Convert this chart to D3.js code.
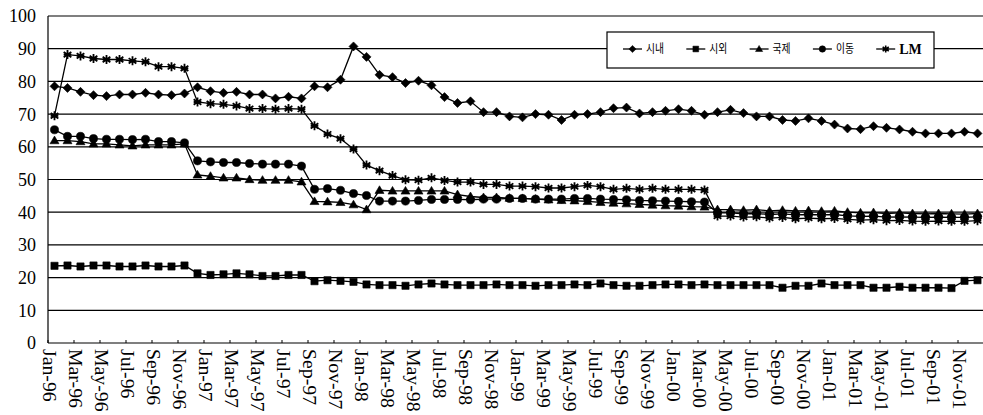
<!DOCTYPE html>
<html><head><meta charset="utf-8">
<script src="https://cdn.jsdelivr.net/npm/d3@7"></script>
<style>html,body{margin:0;padding:0;background:#fff;overflow:hidden}svg{display:block}</style>
</head><body><svg id="c" width="983" height="415"></svg>
<script>
const categories = [
"Jan-96","Feb-96","Mar-96","Apr-96","May-96","Jun-96","Jul-96","Aug-96","Sep-96","Oct-96","Nov-96","Dec-96",
"Jan-97","Feb-97","Mar-97","Apr-97","May-97","Jun-97","Jul-97","Aug-97","Sep-97","Oct-97","Nov-97","Dec-97",
"Jan-98","Feb-98","Mar-98","Apr-98","May-98","Jun-98","Jul-98","Aug-98","Sep-98","Oct-98","Nov-98","Dec-98",
"Jan-99","Feb-99","Mar-99","Apr-99","May-99","Jun-99","Jul-99","Aug-99","Sep-99","Oct-99","Nov-99","Dec-99",
"Jan-00","Feb-00","Mar-00","Apr-00","May-00","Jun-00","Jul-00","Aug-00","Sep-00","Oct-00","Nov-00","Dec-00",
"Jan-01","Feb-01","Mar-01","Apr-01","May-01","Jun-01","Jul-01","Aug-01","Sep-01","Oct-01","Nov-01","Dec-01"];
const seriesNames = ["시내","시외","국제","이동","LM"];
const local = [78.5,78.0,76.8,75.8,75.5,76.0,76.0,76.5,76.0,75.8,76.3,78.2,
77.0,76.5,76.8,76.0,76.0,74.8,75.3,74.8,78.5,78.2,80.5,90.7,
87.5,82.0,81.3,79.5,80.2,78.8,75.2,73.4,73.9,70.6,70.6,69.3,
69.0,70.0,69.8,68.2,69.8,70.0,70.6,71.8,72.0,70.2,70.6,71.0,
71.5,71.0,69.8,70.6,71.3,70.3,69.3,69.3,68.2,67.9,68.7,67.9,
66.8,65.6,65.4,66.3,65.8,65.3,64.6,64.1,64.1,64.1,64.6,64.1];
const longDist = [23.6,23.7,23.4,23.7,23.7,23.4,23.4,23.7,23.4,23.4,23.7,21.3,
20.8,21.0,21.3,21.0,20.5,20.5,20.8,20.8,18.9,19.2,19.0,18.7,
17.9,17.7,17.7,17.5,17.9,18.2,17.9,17.7,17.7,17.7,17.9,17.7,
17.7,17.5,17.7,17.7,17.9,17.7,18.2,17.7,17.5,17.5,17.7,17.9,
17.9,17.7,17.9,17.7,17.7,17.7,17.7,17.7,16.9,17.5,17.5,18.2,
17.7,17.7,17.7,16.9,16.9,17.2,16.9,16.9,16.9,16.8,19.0,19.2];
const intl = [61.9,61.9,61.6,60.9,60.9,60.6,60.3,60.6,60.6,60.6,60.9,51.4,
51.0,50.5,50.5,50.0,49.8,49.8,49.8,49.3,43.3,43.2,43.0,42.3,
40.8,46.7,46.5,46.5,46.5,46.5,46.5,45.4,44.8,44.5,44.5,44.3,
44.2,44.0,43.8,43.6,43.5,43.3,43.0,42.8,42.6,42.4,42.2,42.0,
41.9,41.7,41.6,40.8,40.8,40.6,40.8,40.4,40.6,40.4,40.5,40.3,
40.4,40.0,39.8,39.9,39.6,39.8,39.6,39.5,39.6,39.5,39.4,39.6];
const mobile = [65.2,63.2,63.2,62.5,62.3,62.3,62.2,62.3,61.6,61.6,61.2,55.7,
55.4,55.2,55.2,54.9,54.7,54.7,54.7,54.1,47.0,47.2,46.7,45.7,
45.1,43.4,43.4,43.4,43.6,43.9,43.9,43.9,43.8,44.0,44.0,44.2,
44.2,44.0,44.0,44.0,44.2,44.2,44.0,43.9,43.8,43.6,43.5,43.4,
43.3,43.2,43.1,39.8,39.8,39.5,39.6,39.3,39.5,39.2,39.3,39.2,
39.3,38.9,38.7,38.8,38.5,38.6,38.5,38.4,38.5,38.4,38.4,38.6];
const lm = [69.5,88.2,87.8,87.0,86.7,86.7,86.3,86.0,84.5,84.5,84.0,73.7,
73.2,73.0,72.5,71.7,71.7,71.5,71.7,71.5,66.4,63.9,62.5,59.3,
54.4,52.7,51.2,49.9,49.8,50.5,49.7,49.2,49.2,48.5,48.5,48.0,
48.0,47.8,47.4,47.4,47.8,48.2,47.8,47.0,47.3,47.0,47.3,47.0,
47.0,47.0,46.8,38.8,38.8,38.5,38.6,38.2,38.4,38.0,38.2,38.0,
38.1,37.8,37.6,37.7,37.4,37.5,37.3,37.2,37.3,37.2,37.2,37.4];
const yTicks = [0,10,20,30,40,50,60,70,80,90,100];
const tickLabels = categories.filter((d,i)=>i%2===0);

const seriesValues = [local,longDist,intl,mobile,lm];
const markerTypes = ["diamond","square","triangle","circle","star"];
const SERIF = "'Liberation Serif','Times New Roman','DejaVu Serif',serif";

const svg = d3.select("#c");
const L=48, R=984, T=16, B=343;
const x = d3.scaleBand().domain(categories).range([L,R]).padding(0);
const xc = c => x(c) + x.bandwidth()/2;
const y = d3.scaleLinear().domain([0,100]).range([B,T]);

// gridlines
svg.append("g").selectAll("line").data(yTicks).join("line")
  .attr("x1",L).attr("x2",R).attr("y1",d=>y(d)).attr("y2",d=>y(d))
  .attr("stroke","#000").attr("stroke-width",1.2);
// left axis line
svg.append("line").attr("x1",L).attr("x2",L).attr("y1",T).attr("y2",B)
  .attr("stroke","#000").attr("stroke-width",1.2);
// y labels
svg.append("g").selectAll("text").data(yTicks).join("text")
  .attr("x",36).attr("y",d=>y(d)).attr("dy","0.36em").attr("text-anchor","end")
  .style("font-family",SERIF).attr("font-size",18).attr("fill","#000")
  .text(d=>d);
// x ticks every 2 categories
svg.append("g").selectAll("line").data(tickLabels).join("line")
  .attr("x1",d=>x(d)).attr("x2",d=>x(d)).attr("y1",B).attr("y2",B-3)
  .attr("stroke","#000").attr("stroke-width",1);
// x labels
svg.append("g").selectAll("text").data(tickLabels).join("text")
  .attr("transform",d=>`translate(${xc(d)-12},349) rotate(90) scale(1.1,1)`)
  .attr("text-anchor","start")
  .style("font-family",SERIF).attr("font-size",18).attr("fill","#000")
  .text(d=>d);

function markerPath(type, s){
  switch(type){
    case "diamond": return `M0,${-s}L${s},0L0,${s}L${-s},0Z`;
    case "square": { const h=s*0.8; return `M${-h},${-h}H${h}V${h}H${-h}Z`; }
    case "triangle": return `M0,${-s}L${s},${s*0.7}L${-s},${s*0.7}Z`;
    case "circle": { const r=s*0.9; return `M${r},0A${r},${r} 0 1 1 ${-r},0A${r},${r} 0 1 1 ${r},0Z`; }
    case "star": { const a=s*0.85; return `M0,${-s}V${s}M${-a},${-a*0.7}L${a},${a*0.7}M${-a},${a*0.7}L${a},${-a*0.7}M${-a},0H${a}`; }
  }
}

const line = d3.line().x((d,i)=>xc(categories[i])).y(d=>y(d));
seriesValues.forEach((vals,si)=>{
  const g = svg.append("g");
  g.append("path").attr("d",line(vals)).attr("fill","none").attr("stroke","#000").attr("stroke-width",1.3);
  const t = markerTypes[si];
  g.selectAll("path.m").data(vals).join("path").attr("class","m")
    .attr("transform",(d,i)=>`translate(${xc(categories[i])},${y(d)})`)
    .attr("d",markerPath(t,4.5))
    .attr("fill",t==="star"?"none":"#000")
    .attr("stroke","#000").attr("stroke-width",t==="star"?1.8:0.6);
});

// legend
const lg = svg.append("g");
lg.append("rect").attr("x",607).attr("y",32).attr("width",327).attr("height",36)
  .attr("fill","#fff").attr("stroke","#000").attr("stroke-width",1.2);
seriesNames.forEach((nm,i)=>{
  const tx = 645 + i*63.3;
  const ly = 49;
  lg.append("line").attr("x1",tx-22).attr("x2",tx-3).attr("y1",ly).attr("y2",ly)
    .attr("stroke","#000").attr("stroke-width",1.3);
  const t = markerTypes[i];
  lg.append("path").attr("transform",`translate(${tx-12.5},${ly})`).attr("d",markerPath(t,3.6))
    .attr("fill",t==="star"?"none":"#000").attr("stroke","#000").attr("stroke-width",t==="star"?1.6:0.5);
  const isLM = nm==="LM";
  const txt = lg.append("text").attr("x",tx+1).attr("y",ly).attr("dy","0.36em")
    .style("font-family", isLM ? SERIF : "'Noto Sans CJK KR',sans-serif")
    .attr("font-size", isLM ? 14 : 12)
    .attr("font-weight", isLM ? "bold" : "normal")
    .attr("fill","#000").text(nm);
  if(!isLM) txt.attr("textLength",18).attr("lengthAdjust","spacingAndGlyphs");
});
</script></body></html>
